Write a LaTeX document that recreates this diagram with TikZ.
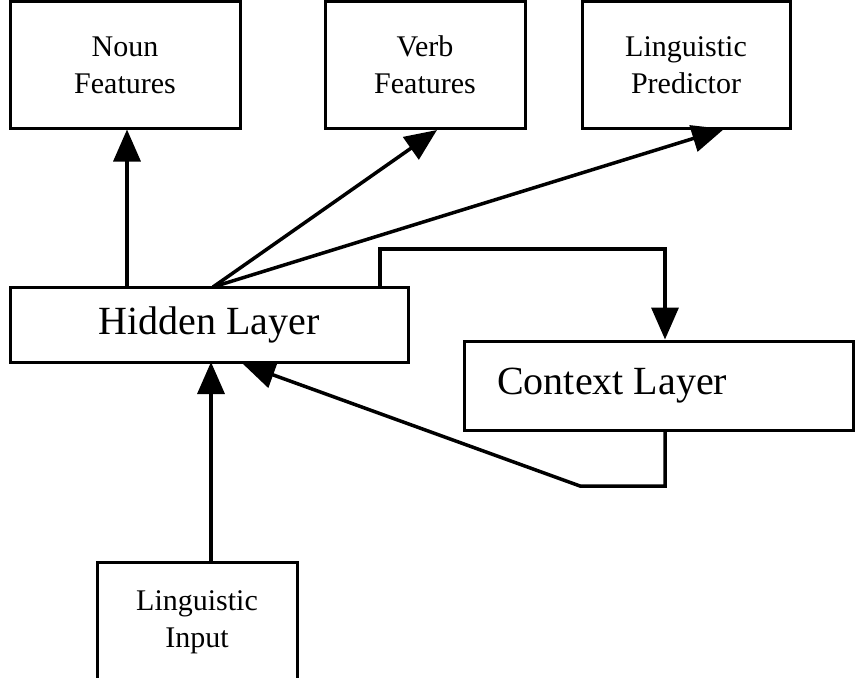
\documentclass[tikz,border=0pt]{standalone}
\usepackage{fontspec}
\setmainfont{Liberation Serif}
\usetikzlibrary{arrows.meta}
\begin{document}
\begin{tikzpicture}[x=1pt,y=-1pt,
  box/.style={draw,line width=3pt,inner sep=0pt,align=center,font=\fontsize{30}{37}\selectfont},
  bigbox/.style={draw,line width=3pt,inner sep=0pt,font=\fontsize{40}{44}\selectfont},
  bigtext/.style={inner sep=0pt,font=\fontsize{40}{44}\selectfont},
  arr/.style={line width=3.5pt,-{Triangle[length=32pt,width=27pt]}}]
\useasboundingbox (0,0) rectangle (856,677);
\node[box,minimum width=230pt,minimum height=126pt] (noun) at (125,65) {Noun\\Features};
\node[box,minimum width=200pt,minimum height=126pt] (verb) at (425,65) {Verb\\Features};
\node[box,minimum width=208pt,minimum height=126pt] (pred) at (686,65) {Linguistic\\Predictor};
\node[bigbox,minimum width=398pt,minimum height=75pt] (hidden) at (209,324.5) {Hidden Layer};
\node[bigbox,minimum width=389pt,minimum height=89pt] (context) at (658.5,385.5) {};
\node[bigtext,anchor=west] (ctxt) at (497,386) {Context Layer};
\node[box,minimum width=200pt,minimum height=120pt] (input) at (197,622) {Linguistic\\Input};
% outputs
\coordinate (nstart) at (127,287);
\draw[arr] (nstart) -- (nstart |- noun.south);
\coordinate (hs) at (213,287);
\coordinate (vt) at (437,130);
\coordinate (pt) at (724,129);
\draw[arr] (hs) -- (vt);
\draw[arr] (hs) -- (pt);
% recurrent loop
\coordinate (c0) at (380,287);
\coordinate (c1) at (380,249);
\coordinate (c2) at (665,249);
\draw[arr] (c0) -- (c1) -- (c2) -- (c2 |- context.north);
\coordinate (d0) at (665,430);
\coordinate (d1) at (665,486);
\coordinate (d2) at (580,486);
\coordinate (d3) at (243,364);
\draw[arr] (d0) -- (d1) -- (d2) -- (d3);
% input
\coordinate (i0) at (211,562);
\coordinate (i1) at (211,362);
\draw[arr] (i0) -- (i1);
\end{tikzpicture}
\end{document}
